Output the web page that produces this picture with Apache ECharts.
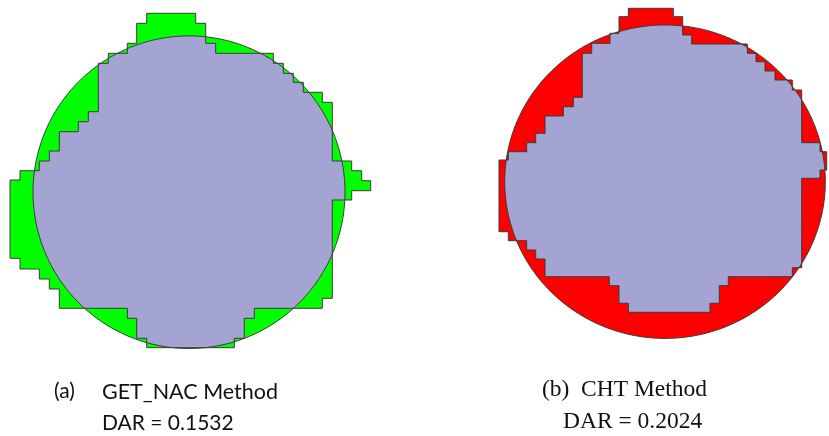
<!DOCTYPE html>
<html><head><meta charset="utf-8">
<script src="https://cdn.jsdelivr.net/npm/echarts@6/dist/echarts.min.js"></script>
<style>html,body{margin:0;padding:0;background:#fff}#c{width:829px;height:436px}</style>
</head><body><div id="c"></div>
<script>
// Figure names and fill colours
const figureNames = ['GET_NAC', 'CHT'];
const outsideColors = ['#00ff00', '#ff0000'];
// Reference circles: [cx, cy, rx, ry]
const circleA = [189, 192.2, 156, 156.3];
const circleB = [665, 181.7, 160.3, 156.7];
// Detected (staircase) regions, vertex lists
const polygonA = [
  [146.7,13.3],[195.7,13.3],[195.7,23.3],[205.7,23.3],[205.7,43.3],[215.7,43.3],[215.7,53.3],
  [273.3,53.3],[273.3,63.3],[283.3,63.3],[283.3,73.3],[293.3,73.3],[293.3,82.3],[303.3,82.3],
  [303.3,92.3],[322.3,92.3],[322.3,102.3],[332.3,102.3],[332.3,161],[351.7,161],[351.7,170.7],
  [361.7,170.7],[361.7,180.7],[370.7,180.7],[370.7,190.7],[351.7,190.7],[351.7,200],[332.3,200],
  [332.3,298.3],[322.3,298.3],[322.3,308.3],[254.3,308.3],[254.3,318.3],[244.3,318.3],[244.3,338.3],
  [234.3,338.3],[234.3,347.7],[146.7,347.7],[146.7,338.3],[136.7,338.3],[136.7,318.3],[127.3,318.3],
  [127.3,308.3],[59.3,308.3],[59.3,289],[49.3,289],[49.3,279],[39.3,279],[39.3,269],[20,269],
  [20,258.3],[10,258.3],[10,180],[20,180],[20,170.7],[39.3,170.7],[39.3,161],[49.3,161],[49.3,151],
  [59.3,151],[59.3,131.7],[78.3,131.7],[78.3,121.7],[88.3,121.7],[88.3,111.7],[98.3,111.7],
  [98.3,63.3],[108.3,63.3],[108.3,53.3],[127.3,53.3],[127.3,43.3],[136.7,43.3],[136.7,23.3],[146.7,23.3]
];
const polygonB = [
  [628.3,8.3],[673.3,8.3],[673.3,16.7],[682.7,16.7],[682.7,35],[691.7,35],[691.7,44],[747.3,44],
  [747.3,53.3],[756,53.3],[756,61.7],[765,61.7],[765,71],[775,71],[775,80],[792.3,80],[792.3,90],
  [801.7,90],[801.7,142.7],[820,142.7],[820,151.7],[826.7,151.7],[826.7,170],[820,170],[820,178.3],
  [801.7,178.3],[801.7,267.7],[792.3,267.7],[792.3,276.7],[728.3,276.7],[728.3,285.7],[719.3,285.7],
  [719.3,303.3],[710,303.3],[710,312.3],[628.3,312.3],[628.3,303.3],[619,303.3],[619,285.7],
  [609.3,285.7],[609.3,276.7],[545,276.7],[545,259],[535.7,259],[535.7,250],[526.7,250],[526.7,240.7],
  [508.3,240.7],[508.3,231.7],[499,231.7],[499,160],[508.3,160],[508.3,151.7],[526.7,151.7],
  [526.7,142.7],[535.7,142.7],[535.7,133.3],[545,133.3],[545,116],[563.3,116],[563.3,106.7],
  [573.3,106.7],[573.3,97.3],[582.3,97.3],[582.3,53.3],[591.7,53.3],[591.7,43.3],[610,43.3],
  [610,33.3],[619,33.3],[619,16.7],[628.3,16.7]
];
// Captions
const captionA = ['(a)', 'GET_NAC Method', 'DAR = 0.1532'];
const captionB = ['(b)', 'CHT Method', 'DAR = 0.2024'];

const circles = [circleA, circleB];
const polygons = [polygonA, polygonB];
const LAVENDER = '#a4a4d2';
const STROKE = '#3a3a3a';

function ellipsePts(api, c) {
  const pts = [];
  for (let i = 0; i < 360; i++) {
    const t = i * Math.PI / 180;
    pts.push(api.coord([c[0] + c[2] * Math.cos(t), c[1] + c[3] * Math.sin(t)]));
  }
  return pts;
}
function cross(a, b, p) { return (b[0]-a[0])*(p[1]-a[1]) - (b[1]-a[1])*(p[0]-a[0]); }
function intersect(a, b, p, q) {
  const d = (a[0]-b[0])*(p[1]-q[1]) - (a[1]-b[1])*(p[0]-q[0]);
  const t = ((a[0]-p[0])*(p[1]-q[1]) - (a[1]-p[1])*(p[0]-q[0])) / d;
  return [a[0] + t*(b[0]-a[0]), a[1] + t*(b[1]-a[1])];
}
function clip(subject, clipPoly, center) {
  let out = subject.slice();
  for (let i = 0; i < clipPoly.length; i++) {
    const A = clipPoly[i], B = clipPoly[(i+1) % clipPoly.length];
    const s = Math.sign(cross(A, B, center));
    const inside = p => cross(A, B, p) * s >= 0;
    const input = out; out = [];
    if (!input.length) break;
    let S = input[input.length - 1];
    for (const E of input) {
      if (inside(E)) {
        if (!inside(S)) out.push(intersect(S, E, A, B));
        out.push(E);
      } else if (inside(S)) {
        out.push(intersect(S, E, A, B));
      }
      S = E;
    }
  }
  return out;
}

const chart = echarts.init(document.getElementById('c'), null, {renderer: 'canvas'});
chart.setOption({
  animation: false,
  backgroundColor: '#ffffff',
  grid: {left: 0, right: 0, top: 0, bottom: 0},
  xAxis: {type: 'value', min: 0, max: 829, show: false},
  yAxis: {type: 'value', min: 0, max: 436, inverse: true, show: false},
  series: [{
    type: 'custom',
    coordinateSystem: 'cartesian2d',
    data: figureNames.map((n, i) => [i]),
    renderItem: function (params, api) {
      const i = params.dataIndex;
      const c = circles[i];
      const ell = ellipsePts(api, c);
      const poly = polygons[i].map(p => api.coord(p));
      const center = api.coord([c[0], c[1]]);
      const inter = clip(poly, ell, center);
      const col = outsideColors[i];
      return {
        type: 'group',
        children: [
          {type: 'polygon', shape: {points: ell}, style: {fill: col, stroke: null}},
          {type: 'polygon', shape: {points: poly}, style: {fill: col, stroke: null}},
          {type: 'polygon', shape: {points: inter}, style: {fill: LAVENDER, stroke: null}},
          {type: 'polygon', shape: {points: poly}, style: {fill: null, stroke: STROKE, lineWidth: 1}},
          {type: 'polygon', shape: {points: ell}, style: {fill: null, stroke: STROKE, lineWidth: 1}}
        ]
      };
    }
  }],
  graphic: [
    {type: 'text', left: 54, top: 381, style: {text: captionA[0], font: '21px Lato', fill: '#111'}},
    {type: 'text', left: 102, top: 381, style: {text: captionA[1], font: '21.5px Lato', fill: '#111'}},
    {type: 'text', left: 102, top: 413, style: {text: captionA[2], font: '21px Lato', fill: '#111'}},
    {type: 'text', left: 542, top: 378, style: {text: captionB[0], font: '23.5px "Liberation Serif"', fill: '#111'}},
    {type: 'text', left: 581, top: 378, style: {text: captionB[1], font: '23.5px "Liberation Serif"', fill: '#111'}},
    {type: 'text', left: 563, top: 410, style: {text: captionB[2], font: '23.5px "Liberation Serif"', fill: '#111'}}
  ]
});
</script></body></html>
